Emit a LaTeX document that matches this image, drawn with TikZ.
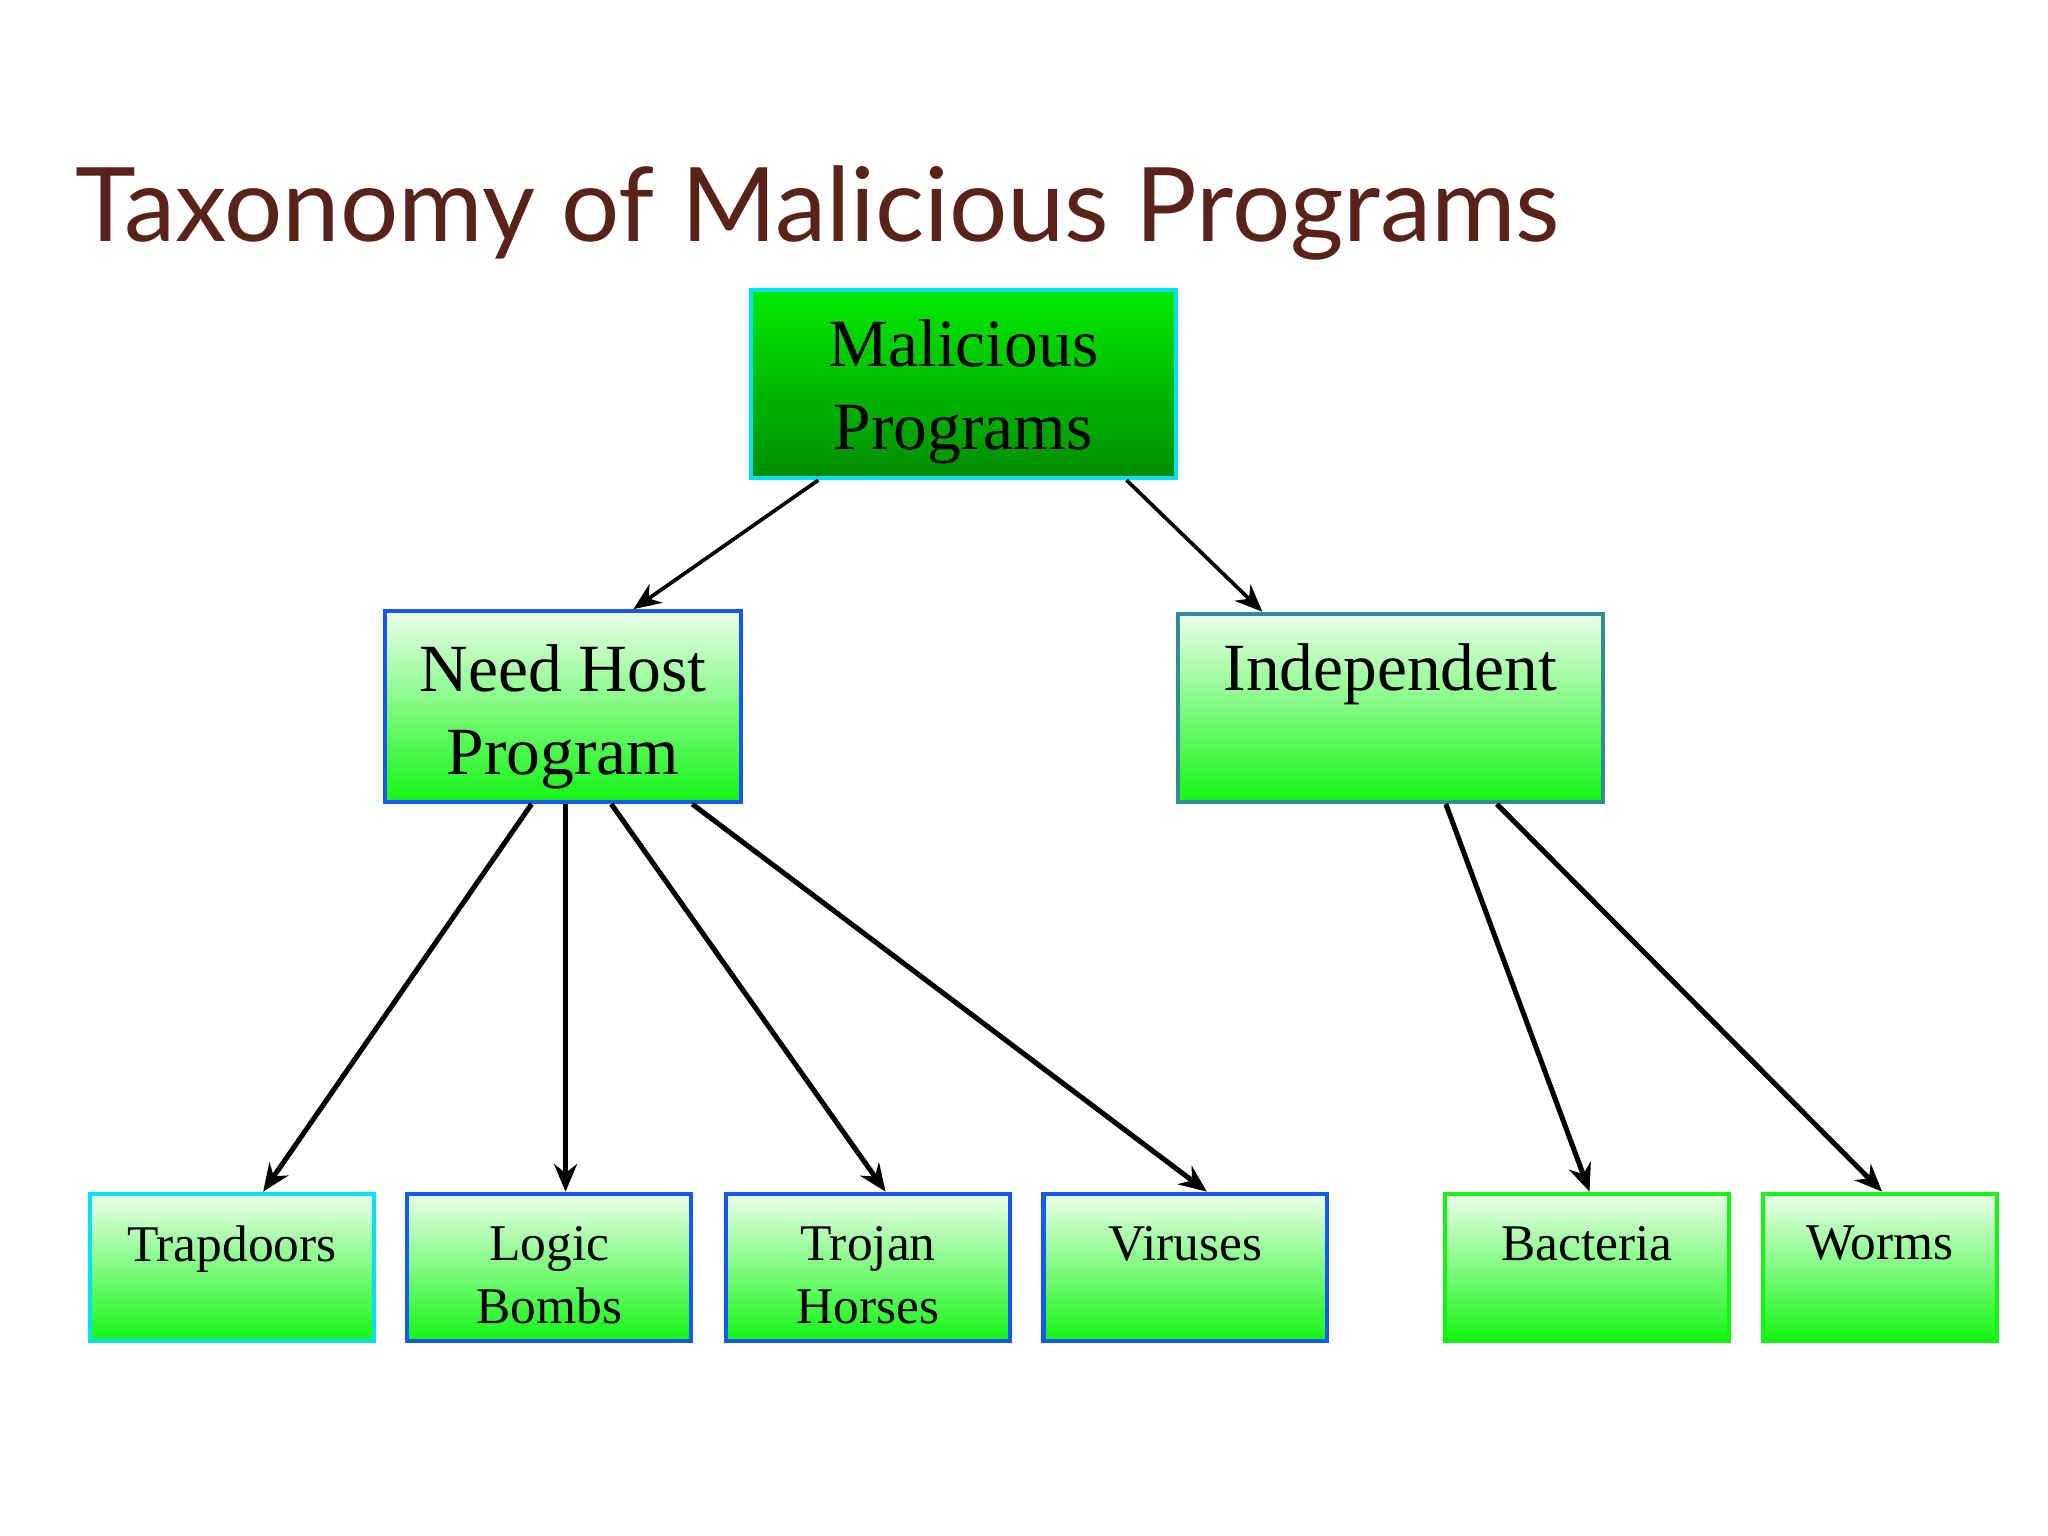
\documentclass[tikz,border=0pt]{standalone}
\usepackage{fontspec}
\setmainfont{Liberation Serif}
\newfontfamily\titlefont{Lato}
\usetikzlibrary{positioning,calc,arrows.meta}
\definecolor{titlebrown}{RGB}{90,35,25}
\definecolor{lightgr}{RGB}{235,255,235}
\definecolor{brightgr}{RGB}{20,245,20}
\definecolor{hostblue}{RGB}{20,90,240}
\definecolor{edgecyan}{RGB}{0,225,245}
\tikzset{
  box/.style={draw, line width=0.9pt, top color=lightgr, bottom color=brightgr},
  leaf/.style={box, minimum width=2.17cm, minimum height=1.13cm},
  boxtext/.style={align=center, font=\fontsize{11.2}{13.7}\selectfont},
  bigtext/.style={align=center, font=\fontsize{14.7}{18}\selectfont},
  arr/.style={-{Stealth[length=6pt,width=5pt]}, line width=1.1pt}
}
\begin{document}
\begin{tikzpicture}[x=0.01cm,y=0.01cm]
\useasboundingbox (0,0) rectangle (1568,1176);
\node[anchor=base west, inner sep=0pt, text=titlebrown, font=\titlefont\fontsize{22.4}{26}\selectfont] (title) at (57,991) {Taxonomy of Malicious Programs};
% top level
\node[draw=edgecyan, line width=0.9pt, top color={rgb,255:red,0;green,235;blue,0}, bottom color={rgb,255:red,0;green,140;blue,0}, minimum width=3.25cm, minimum height=1.44cm] (MP) at (737.5,882) {};
\node[bigtext] (MPt) at ($(MP)+(0,-6)$) {Malicious\\Programs};
% second level
\node[box, draw=hostblue, minimum width=2.72cm, minimum height=1.46cm] (NH) at (431,635) {};
\node[bigtext] (NHt) at ($(NH)+(0,-8)$) {Need Host\\Program};
\node[box, draw={rgb,255:red,50;green,140;blue,150}, minimum width=3.25cm, minimum height=1.44cm] (IND) at (1064.5,634) {};
\node[bigtext, anchor=base] (INDt) at ($(IND.north)+(0,-60)$) {Independent};
% leaves
\node[leaf, draw=edgecyan] (TRAP) at (177.5,205.5) {};
\node[leaf, draw=hostblue] (LOGIC) at (420.5,205.5) {};
\node[leaf, draw=hostblue] (TROJ) at (664.5,205.5) {};
\node[leaf, draw=hostblue] (VIR) at (907.5,205.5) {};
\node[leaf, draw=brightgr] (BACT) at (1215,205.5) {};
\node[leaf, draw=brightgr, minimum width=1.79cm] (WORM) at (1439.5,205.5) {};
\node[boxtext, anchor=north] (TRAPt) at ($(TRAP.north)+(0,-14)$) {Trapdoors};
\node[boxtext, anchor=north] (LOGICt) at ($(LOGIC.north)+(0,-14)$) {Logic\\Bombs};
\node[boxtext, anchor=north] (TROJt) at ($(TROJ.north)+(0,-14)$) {Trojan\\Horses};
\node[boxtext, anchor=north] (VIRt) at ($(VIR.north)+(0,-14)$) {Viruses};
\node[boxtext, anchor=north] (BACTt) at ($(BACT.north)+(0,-14)$) {Bacteria};
\node[boxtext, anchor=north] (WORMt) at ($(WORM.north)+(0,-14)$) {Worms};
% connectors
\draw[arr, line width=0.8pt] ($(MP.south)+(-111,0)$) -- ($(NH.north)+(54,0)$);
\draw[arr, line width=0.8pt] ($(MP.south)+(125,0)$) -- ($(IND.north)+(-98,0)$);
\draw[arr] ($(NH.south)+(-24,0)$) -- ($(TRAP.north)+(24,0)$);
\draw[arr] ($(NH.south)+(2,0)$) -- ($(LOGIC.north)+(12.5,0)$);
\draw[arr] ($(NH.south)+(37,0)$) -- ($(TROJ.north)+(13.5,0)$);
\draw[arr] ($(NH.south)+(99,0)$) -- ($(VIR.north)+(16.5,0)$);
\draw[arr] ($(IND.south)+(42.5,0)$) -- ($(BACT.north)+(2,0)$);
\draw[arr] ($(IND.south)+(81.5,0)$) -- ($(WORM.north)+(1.5,0)$);
\end{tikzpicture}
\end{document}
